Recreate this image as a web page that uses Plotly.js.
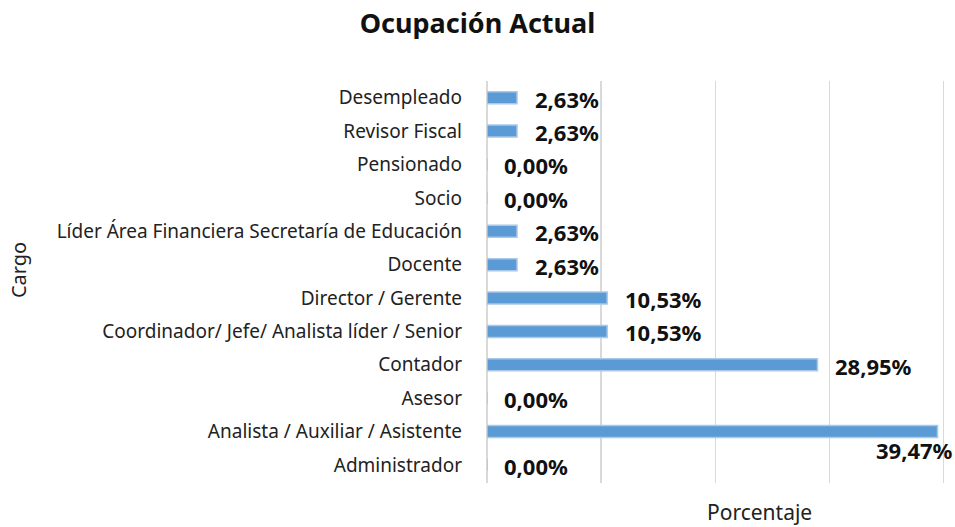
<!DOCTYPE html>
<html>
<head>
<meta charset="utf-8">
<script src="https://cdn.plot.ly/plotly-3.0.1.min.js"></script>
<style>html,body{margin:0;padding:0;background:#fff;}#chart{width:955px;height:527px;}</style>
</head>
<body>
<div id="chart"></div>
<script>
// Data (bottom to top as drawn)
const categories = [
  "Administrador",
  "Analista / Auxiliar / Asistente",
  "Asesor",
  "Contador",
  "Coordinador/ Jefe/ Analista líder / Senior",
  "Director / Gerente",
  "Docente",
  "Líder Área Financiera Secretaría de Educación",
  "Socio",
  "Pensionado",
  "Revisor Fiscal",
  "Desempleado"
];
const values = [0.00, 39.47, 0.00, 28.95, 10.53, 10.53, 2.63, 2.63, 0.00, 0.00, 2.63, 2.63];
const valueLabels = ["0,00%", "39,47%", "0,00%", "28,95%", "10,53%", "10,53%", "2,63%", "2,63%", "0,00%", "0,00%", "2,63%", "2,63%"];

const FONT = "Noto Sans, Open Sans, sans-serif";
const maxVal = Math.max(...values);

const annotations = values.map((v, i) => {
  const isMax = v === maxVal;
  return {
    x: v, y: categories[i], xref: 'x', yref: 'y',
    text: '<b>' + valueLabels[i] + '</b>',
    showarrow: false,
    xanchor: isMax ? 'right' : 'left',
    xshift: isMax ? 17 : (v === 0 ? 15 : 16),
    yshift: isMax ? -18 : -1,
    font: {family: FONT, size: 22, color: '#111'}
  };
});
annotations.push({
  text: 'Cargo', xref: 'paper', yref: 'paper', x: -1.017, y: 0.53,
  textangle: -90, showarrow: false, xanchor: 'center', yanchor: 'middle',
  font: {family: FONT, size: 20, color: '#222'}
});
annotations.push({
  text: 'Porcentaje', xref: 'paper', yref: 'paper', x: 0.593, y: -0.073,
  showarrow: false, xanchor: 'center', yanchor: 'middle',
  font: {family: FONT, size: 21, color: '#222'}
});

const trace = {
  type: 'bar', orientation: 'h',
  x: values, y: categories,
  width: 0.36,
  marker: {color: '#5b9bd5', line: {color: '#a9c8ea', width: 1.5}},
  hoverinfo: 'x+y'
};

const layout = {
  width: 955, height: 527,
  margin: {l: 487, r: 8, t: 81, b: 44},
  paper_bgcolor: '#fff', plot_bgcolor: '#fff',
  title: {text: '<b>Ocupación Actual</b>', x: 0.5, xanchor: 'center', y: 0.955, yanchor: 'middle',
          font: {family: FONT, size: 27, color: '#111'}},
  xaxis: {
    range: [0, 40.3], dtick: 10, showgrid: true, gridcolor: '#d9d9d9', gridwidth: 1.5,
    zeroline: true, zerolinecolor: '#d9d9d9', zerolinewidth: 1.5,
    showticklabels: false, showline: false, fixedrange: true
  },
  yaxis: {
    type: 'category', categoryorder: 'array', categoryarray: categories,
    showgrid: false, zeroline: false, showline: false,
    ticks: '', ticklabelstandoff: 24,
    tickfont: {family: FONT, size: 19, color: '#222'},
    automargin: false, fixedrange: true
  },
  bargap: 0.6,
  showlegend: false,
  annotations: annotations
};

Plotly.newPlot('chart', [trace], layout, {displayModeBar: false, staticPlot: true});
</script>
</body>
</html>
